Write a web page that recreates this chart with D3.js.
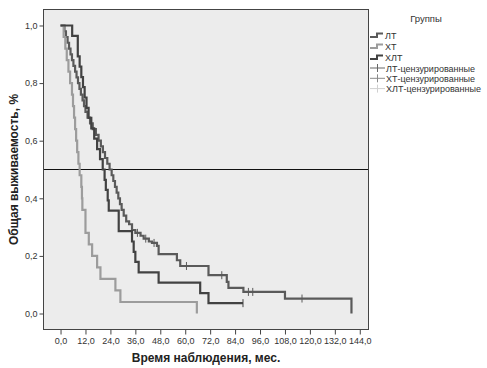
<!DOCTYPE html>
<html>
<head>
<meta charset="utf-8">
<script src="https://cdn.jsdelivr.net/npm/d3@7"></script>
<style>
body { margin: 0; background: #fff; }
svg { display: block; font-family: "Liberation Sans", Arial, sans-serif; }
</style>
</head>
<body>
<svg id="chart"></svg>
<script>
// Kaplan-Meier curves (months, survival after event)
const groups = ["ЛТ", "ХТ", "ХЛТ"];
const censLabels = ["ЛТ-цензурированные", "ХТ-цензурированные", "ХЛТ-цензурированные"];

const ltTime = [0, 1.9, 2.6, 3.4, 4.1, 4.8, 5.5, 6.2, 7.0, 7.7, 8.4, 9.1, 9.8, 10.6, 11.3, 12.0,
  13.0, 14.2, 15.5, 17.0, 18.3, 19.4, 20.4, 21.4, 22.5, 23.6, 24.6, 25.4, 26.2, 27.0, 27.8,
  28.6, 29.4, 30.4, 31.6, 33.0, 34.4, 36.0, 38.5, 40.0, 42.5, 44.0, 46.4, 47.2, 56.0, 57.6,
  71.2, 80.0, 80.8, 88.0, 108.0, 140.0];
const ltSurv = [1, 0.98, 0.96, 0.94, 0.92, 0.90, 0.88, 0.86, 0.84, 0.82, 0.80, 0.78, 0.76, 0.74, 0.72, 0.70,
  0.68, 0.66, 0.64, 0.62, 0.60, 0.58, 0.56, 0.54, 0.52, 0.50, 0.48, 0.46, 0.44, 0.42, 0.40,
  0.38, 0.36, 0.34, 0.32, 0.31, 0.29, 0.28, 0.27, 0.26, 0.25, 0.245, 0.235, 0.206, 0.185, 0.165,
  0.133, 0.11, 0.089, 0.075, 0.052, 0];
const ltCens = [37.0, 41.0, 45.0, 60.6, 77.6, 90.4, 92.5, 116.2];

const xtTime = [0, 1.5, 2.3, 3.0, 3.8, 4.6, 5.5, 6.0, 6.5, 7.0, 7.5, 8.0, 8.6, 9.2, 10.0, 10.3, 10.5,
  12.0, 13.6, 15.2, 17.6, 19.2, 26.4, 28.8, 65.6];
const xtSurv = [1, 0.96, 0.92, 0.88, 0.84, 0.80, 0.76, 0.72, 0.68, 0.64, 0.60, 0.56, 0.52, 0.48, 0.44, 0.40, 0.36,
  0.28, 0.24, 0.20, 0.16, 0.12, 0.08, 0.04, 0];
const xtCens = [];

const hltTime = [0, 5.6, 8.3, 9.2, 10.0, 10.8, 11.6, 12.5, 13.5, 14.8, 16.2, 17.6, 19.0, 20.3, 21.2, 21.8,
  22.7, 23.2, 28.0, 34.4, 35.2, 36.0, 37.6, 47.2, 67.2, 71.2];
const hltSurv = [1, 0.964, 0.893, 0.857, 0.821, 0.786, 0.75, 0.714, 0.679, 0.643, 0.607, 0.571, 0.536, 0.5, 0.464, 0.429,
  0.393, 0.357, 0.286, 0.25, 0.214, 0.179, 0.143, 0.107, 0.071, 0.036];
const hltCens = [87.8];

const xTicks = [0, 12, 24, 36, 48, 60, 72, 84, 96, 108, 120, 132, 144];
const yTicks = [0, 0.2, 0.4, 0.6, 0.8, 1.0];

const width = 487;
const height = 368;
const plot = { left: 43.5, right: 368.5, top: 9.5, bottom: 329.5 };

const lineColors = ["#5a5a5a", "#9c9c9c", "#424242"];
const censColors = ["#666666", "#8a8a8a", "#d0d0d0"];

const series = [
  { time: ltTime, surv: ltSurv, cens: ltCens, color: lineColors[0] },
  { time: xtTime, surv: xtSurv, cens: xtCens, color: lineColors[1] },
  { time: hltTime, surv: hltSurv, cens: hltCens, color: lineColors[2] }
];

const xScale = d3.scaleLinear().domain([-8.2, 148.2]).range([plot.left, plot.right]);
const yScale = d3.scaleLinear().domain([-0.0555, 1.0555]).range([plot.bottom, plot.top]);
const comma = d => d3.format(".1f")(d).replace(".", ",");

const svg = d3.select("#chart").attr("width", width).attr("height", height);

// plot background
svg.append("rect")
  .attr("x", plot.left).attr("y", plot.top)
  .attr("width", plot.right - plot.left).attr("height", plot.bottom - plot.top)
  .attr("fill", "#ececec");

// axes
const yAxis = d3.axisLeft(yScale).tickValues(yTicks).tickFormat(comma).tickSize(4).tickPadding(2);
const xAxis = d3.axisBottom(xScale).tickValues(xTicks).tickFormat(comma).tickSize(5).tickPadding(3);

const gy = svg.append("g").attr("transform", `translate(${plot.left},0)`).call(yAxis);
const gx = svg.append("g").attr("transform", `translate(0,${plot.bottom})`).call(xAxis);
[gx, gy].forEach(g => {
  g.select(".domain").remove();
  g.selectAll("line").attr("stroke", "#444");
  g.selectAll("text").attr("fill", "#333").style("font-size", "9px")
    .style("font-family", "'Liberation Sans', Arial, sans-serif");
});

// reference line at 0.5
svg.append("line")
  .attr("x1", plot.left).attr("x2", plot.right)
  .attr("y1", yScale(0.5)).attr("y2", yScale(0.5))
  .attr("stroke", "#111").attr("stroke-width", 1);

// survival curves
const stepLine = d3.line()
  .x(d => xScale(d[0]))
  .y(d => yScale(d[1]))
  .curve(d3.curveStepAfter);

const survAt = (s, t) => {
  let v = s.surv[0];
  s.time.forEach((tt, i) => { if (tt <= t) v = s.surv[i]; });
  return v;
};

series.forEach(s => {
  const pts = s.time.map((t, i) => [t, s.surv[i]]);
  const lastT = d3.max(s.cens.concat(s.time));
  if (lastT > s.time[s.time.length - 1]) pts.push([lastT, survAt(s, lastT)]);
  svg.append("path")
    .datum(pts)
    .attr("d", stepLine)
    .attr("fill", "none")
    .attr("stroke", s.color)
    .attr("stroke-width", 2.2);

  svg.selectAll(null)
    .data(s.cens)
    .enter()
    .append("line")
    .attr("x1", d => xScale(d)).attr("x2", d => xScale(d))
    .attr("y1", d => yScale(survAt(s, d)) - 4)
    .attr("y2", d => yScale(survAt(s, d)) + 4)
    .attr("stroke", s.color)
    .attr("stroke-width", 1);
});

// frame
svg.append("rect")
  .attr("x", plot.left).attr("y", plot.top)
  .attr("width", plot.right - plot.left).attr("height", plot.bottom - plot.top)
  .attr("fill", "none").attr("stroke", "#444").attr("stroke-width", 1);

// axis titles
svg.append("text")
  .attr("x", 206).attr("y", 362)
  .attr("text-anchor", "middle")
  .style("font-size", "12px").style("font-weight", "bold").attr("fill", "#222")
  .text("Время наблюдения, мес.");

svg.append("text")
  .attr("transform", `translate(18,${(plot.top + plot.bottom) / 2}) rotate(-90)`)
  .attr("text-anchor", "middle")
  .style("font-size", "12px").style("font-weight", "bold").attr("fill", "#222")
  .text("Общая выживаемость, %");

// legend
const legend = svg.append("g");
legend.append("text")
  .attr("x", 426).attr("y", 22)
  .attr("text-anchor", "middle")
  .style("font-size", "9.5px").attr("fill", "#333")
  .text("Группы");

groups.forEach((g, i) => {
  const yy = 35 + i * 11;
  legend.append("path")
    .attr("d", `M370,${yy + 2}H377V${yy - 1.5}H383`)
    .attr("fill", "none").attr("stroke", lineColors[i]).attr("stroke-width", 2);
  legend.append("text")
    .attr("x", 385).attr("y", yy + 3.5)
    .style("font-size", "9px").attr("fill", "#333")
    .text(g);
});

censLabels.forEach((g, i) => {
  const yy = 68 + i * 10.3;
  legend.append("line")
    .attr("x1", 370).attr("x2", 385).attr("y1", yy).attr("y2", yy)
    .attr("stroke", censColors[i]).attr("stroke-width", 1);
  legend.append("line")
    .attr("x1", 377.5).attr("x2", 377.5).attr("y1", yy - 4).attr("y2", yy + 4)
    .attr("stroke", censColors[i]).attr("stroke-width", 1);
  legend.append("text")
    .attr("x", 386).attr("y", yy + 3.5)
    .style("font-size", "9px").attr("fill", "#333")
    .text(g);
});
</script>
</body>
</html>
